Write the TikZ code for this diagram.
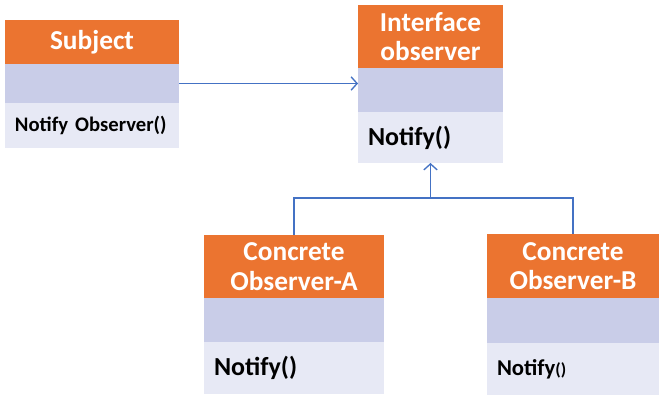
\documentclass[tikz,border=0pt]{standalone}
\usepackage{fontspec}
\setmainfont{Carlito}
\usetikzlibrary{arrows.meta}
\definecolor{hdorange}{HTML}{EB7430}
\definecolor{midblue}{HTML}{C9CDE8}
\definecolor{lowblue}{HTML}{E7E9F5}
\definecolor{linkblue}{HTML}{4472C4}
\tikzset{
    cell/.style 2 args={anchor=north west, inner sep=0pt, outer sep=0pt,
        minimum width=#1*0.75pt, minimum height=#2*0.75pt},
    hd/.style={fill=hdorange, text=white, align=center,
        font=\bfseries\fontsize{20.5}{22}\selectfont},
    mid/.style={fill=midblue},
    low/.style 2 args={fill=lowblue, anchor=north west, inner ysep=0pt, inner xsep=7.5pt,
        outer sep=0pt, text width=#1*0.75pt-15pt, minimum height=#2*0.75pt, align=left,
        font=\bfseries\fontsize{19.5}{21}\selectfont},
    link/.style={draw=linkblue, line width=1pt},
    opentip/.style={-{Straight Barb[length=4.5pt,width=10pt]}}
}
\begin{document}
\begin{tikzpicture}[x=0.75pt,y=-0.75pt]
    \useasboundingbox (0,0) rectangle (669,403);

    % subject
    \node[cell={174}{44}, hd] (subjhd) at (5,20) {Subject};
    \node[cell={174}{39}, mid] (subjmid) at (5,64) {};
    \node[low={174}{45}, font=\bfseries\fontsize{15.5}{17}\selectfont] (subjlow) at (5,103) {Notify Observer()};

    % interface observer
    \node[cell={145}{63}, hd] (ifhd) at (358,5) {Interface\\observer};
    \node[cell={145}{44}, mid] (ifmid) at (358,68) {};
    \node[low={145}{51}] (iflow) at (358,112) {Notify()};

    % concrete observers
    \node[cell={180}{63}, hd] (ahd) at (204,235) {Concrete\\Observer-A};
    \node[cell={180}{44}, mid] (amid) at (204,298) {};
    \node[low={180}{52}] (alow) at (204,342) {Notify()};

    \node[cell={172}{64}, hd] (bhd) at (487,234) {Concrete\\Observer-B};
    \node[cell={172}{45}, mid] (bmid) at (487,298) {};
    \node[low={172}{52}, font=\bfseries\fontsize{17}{19}\selectfont] (blow) at (487,343)
        {Notify{\fontsize{13}{15}\selectfont()}};

    % connectors
    \draw[link, opentip] (subjmid.east) -- (subjmid.east -| ifmid.west);
    \coordinate (bus) at (iflow.south |- 0,198);
    \draw[link] (ahd.north) |- (bus) -| (bhd.north);
    \draw[link, opentip] (bus) -- (iflow.south);
\end{tikzpicture}
\end{document}
